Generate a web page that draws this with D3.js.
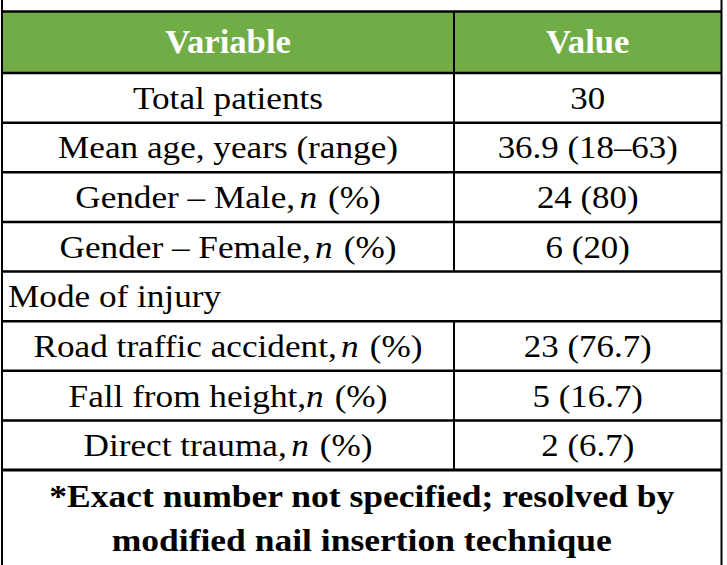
<!DOCTYPE html>
<html>
<head>
<meta charset="utf-8">
<script src="https://cdn.jsdelivr.net/npm/d3@7"></script>
<style>
  body { margin: 0; background: #fff; }
  text { font-family: "Liberation Serif", "Times New Roman", serif; }
</style>
</head>
<body>
<div id="table"></div>
<script>
// table contents
const headers = ['Variable', 'Value'];
const labels = ['Total patients', 'Mean age, years (range)', 'Gender \u2013 Male,', 'Gender \u2013 Female,',
  'Mode of injury', 'Road traffic accident,', 'Fall from height,', 'Direct trauma,'];
const values = ['30', '36.9 (18\u201363)', '24 (80)', '6 (20)', '', '23 (76.7)', '5 (16.7)', '2 (6.7)'];
const withN = [false, false, true, true, false, true, true, true];
const subheads = ['Mode of injury'];
const footnote = ['*Exact number not specified; resolved by', 'modified nail insertion technique'];

const W = 727, H = 565;
const left = 2, right = 721.5, divider = 454;
const headTop = 11.5, headBottom = 73, bodyBottom = 470;
const green = '#70ad47';
const sx = 1.1; // the source text is set slightly wide

const svg = d3.select('#table').append('svg')
  .attr('width', W).attr('height', H);

const yRow = d3.scaleBand()
  .domain(d3.range(labels.length))
  .range([headBottom, bodyBottom]);

const colCenter = [(left + divider) / 2, (divider + right) / 2];

// header band
svg.append('rect')
  .attr('x', left).attr('y', headTop)
  .attr('width', right - left).attr('height', headBottom - headTop)
  .attr('fill', green);

svg.selectAll('.head')
  .data(headers)
  .enter()
  .append('text')
  .attr('class', 'head')
  .attr('transform', (d, i) => `translate(${colCenter[i]},${(headTop + headBottom) / 2 + 11}) scale(1.05,1)`)
  .attr('text-anchor', 'middle')
  .attr('font-size', 33)
  .attr('font-weight', 'bold')
  .attr('fill', '#fff')
  .text(d => d);

// body rows
const rows = svg.selectAll('.row')
  .data(labels.map((l, i) => ({label: l, value: values[i], n: withN[i], i: i})))
  .enter()
  .append('g')
  .attr('class', 'row')
  .attr('transform', d => `translate(0,${yRow(d.i) + yRow.bandwidth() / 2 + 11})`);

const labelText = rows.append('text')
  .attr('transform', d => subheads.includes(d.label)
    ? `translate(8,0) scale(${sx},1)`
    : `translate(${colCenter[0]},0) scale(${sx},1)`)
  .attr('text-anchor', d => subheads.includes(d.label) ? 'start' : 'middle')
  .attr('font-size', 32)
  .attr('fill', '#000');

labelText.append('tspan').text(d => d.label);
labelText.filter(d => d.n).append('tspan')
  .attr('dx', d => d.label.startsWith('Fall') ? 0 : 4)
  .attr('font-style', 'italic')
  .text('n');
labelText.filter(d => d.n).append('tspan')
  .attr('dx', 10)
  .text('(%)');

rows.append('text')
  .attr('transform', `translate(${colCenter[1]},0) scale(1.09,1)`)
  .attr('text-anchor', 'middle')
  .attr('font-size', 32)
  .attr('fill', '#000')
  .text(d => d.value);

// footnote
svg.selectAll('.foot')
  .data(footnote)
  .enter()
  .append('text')
  .attr('class', 'foot')
  .attr('transform', (d, i) => `translate(${(left + right) / 2},${507 + i * 44}) scale(1.11,1)`)
  .attr('text-anchor', 'middle')
  .attr('font-size', 32)
  .attr('font-weight', 'bold')
  .attr('fill', '#000')
  .text(d => d);

// grid lines
const lineY = [headTop, headBottom].concat(d3.range(1, labels.length + 1).map(i => yRow(i - 1) + yRow.bandwidth()));
svg.selectAll('.hline')
  .data(lineY)
  .enter()
  .append('line')
  .attr('x1', left).attr('x2', right)
  .attr('y1', d => d).attr('y2', d => d)
  .attr('stroke', '#000')
  .attr('stroke-width', (d, i) => i === lineY.length - 1 ? 3 : 2.5);

// column divider, broken by the subheading row
const subIdx = labels.indexOf(subheads[0]);
const divSegs = [[headTop, yRow(subIdx)], [yRow(subIdx) + yRow.bandwidth(), bodyBottom]];
svg.selectAll('.vdiv')
  .data(divSegs)
  .enter()
  .append('line')
  .attr('x1', divider).attr('x2', divider)
  .attr('y1', d => d[0]).attr('y2', d => d[1])
  .attr('stroke', '#000')
  .attr('stroke-width', 2);

// outer borders run the full height
svg.selectAll('.vborder')
  .data([left, right])
  .enter()
  .append('line')
  .attr('x1', d => d).attr('x2', d => d)
  .attr('y1', 0).attr('y2', H)
  .attr('stroke', '#000')
  .attr('stroke-width', 2);
</script>
</body>
</html>
